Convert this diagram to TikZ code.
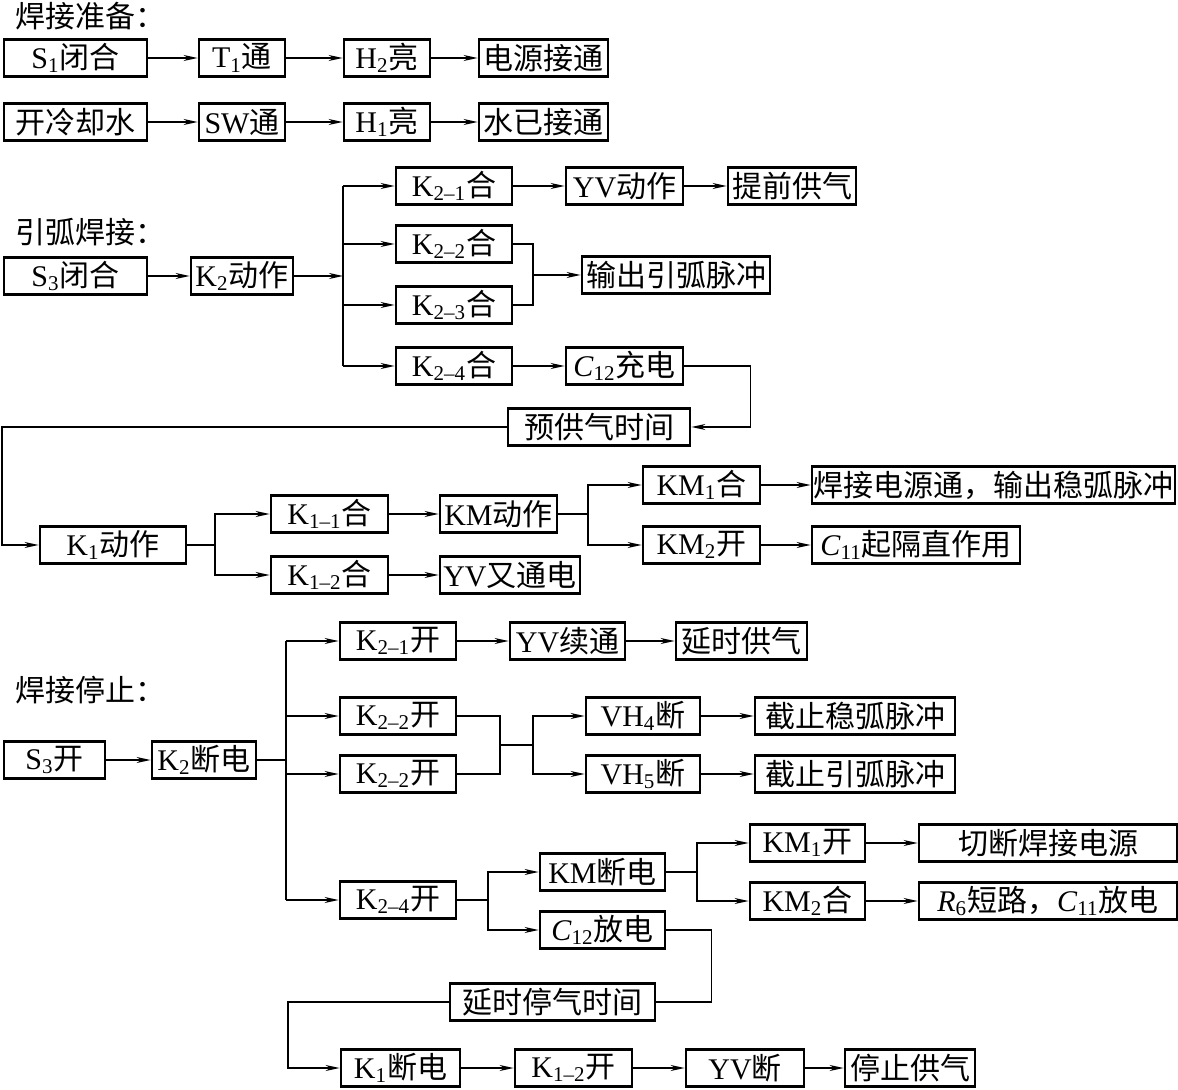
\documentclass[tikz,border=0pt]{standalone}
\usepackage{fontspec}
\setmainfont{Liberation Serif}
\newfontfamily\cjk{Noto Sans CJK SC}
\usetikzlibrary{arrows.meta}
\newcommand{\zh}[1]{{\cjk #1}}

\begin{document}
\begin{tikzpicture}[x=0.5pt,y=-0.5pt,>={Stealth[length=7pt,width=3pt]},font=\fontsize{15}{15}\selectfont,
  box/.style={draw,line width=1.4pt,inner sep=0pt,minimum height=18.5pt},
  lk/.style={line width=0.8pt}]
 \useasboundingbox (0,0) rectangle (1178,1090);
 \node[anchor=west] (tprep) at (8,16) {\zh{焊接准备：}};
 \node[box,minimum width=71.5pt] (s1) at (75.5,58) {S\textsubscript{1}\zh{闭合}};
 \node[box,minimum width=43pt] (t1) at (242,58) {T\textsubscript{1}\zh{通}};
 \node[box,minimum width=43pt] (h2) at (387,58) {H\textsubscript{2}\zh{亮}};
 \node[box,minimum width=64.5pt] (pw) at (543.5,58) {\zh{电源接通}};
 \node[box,minimum width=71.5pt] (cw) at (75.5,122) {\zh{开冷却水}};
 \node[box,minimum width=43pt] (sw) at (242,122) {SW\zh{通}};
 \node[box,minimum width=43pt] (h1) at (387,122) {H\textsubscript{1}\zh{亮}};
 \node[box,minimum width=64.5pt] (wt) at (543.5,122) {\zh{水已接通}};
 \draw[lk,->] (s1) -- (t1);
 \draw[lk,->] (t1) -- (h2);
 \draw[lk,->] (h2) -- (pw);
 \draw[lk,->] (cw) -- (sw);
 \draw[lk,->] (sw) -- (h1);
 \draw[lk,->] (h1) -- (wt);

 \node[anchor=west] (tarc) at (8,232) {\zh{引弧焊接：}};
 \node[box,minimum width=71.5pt] (s3) at (75.5,276) {S\textsubscript{3}\zh{闭合}};
 \node[box,minimum width=51pt] (k2) at (242,276) {K\textsubscript{2}\zh{动作}};
 \node[box,minimum width=58pt] (k21) at (454,186) {K\textsubscript{2--1}\zh{合}};
 \node[box,minimum width=58pt] (k22) at (454,244) {K\textsubscript{2--2}\zh{合}};
 \node[box,minimum width=58pt] (k23) at (454,305) {K\textsubscript{2--3}\zh{合}};
 \node[box,minimum width=58pt] (k24) at (454,366) {K\textsubscript{2--4}\zh{合}};
 \node[box,minimum width=58.5pt] (yv1) at (624.5,186) {YV\zh{动作}};
 \node[box,minimum width=64pt] (adv) at (792,186) {\zh{提前供气}};
 \node[box,minimum width=94pt] (arc) at (676,275) {\zh{输出引弧脉冲}};
 \node[box,minimum width=58.5pt] (c12) at (624.5,366) {\textit{C}\textsubscript{12}\zh{充电}};
 \node[box,minimum width=91pt] (pre) at (599,427) {\zh{预供气时间}};
 \node[box,minimum width=73pt] (k1) at (113,545) {K\textsubscript{1}\zh{动作}};
 \node[box,minimum width=58.5pt] (k11) at (329.5,514) {K\textsubscript{1--1}\zh{合}};
 \node[box,minimum width=58.5pt] (k12) at (329.5,575) {K\textsubscript{1--2}\zh{合}};
 \node[box,minimum width=58.5pt] (km) at (498.5,514) {KM\zh{动作}};
 \node[box,minimum width=70pt] (yv2) at (510,575) {YV\zh{又通电}};
 \node[box,minimum width=58.5pt] (km1) at (701.5,485) {KM\textsubscript{1}\zh{合}};
 \node[box,minimum width=58.5pt] (km2) at (701.5,545) {KM\textsubscript{2}\zh{开}};
 \node[box,minimum width=181.5pt] (wps) at (993.5,485) {\zh{焊接电源通，输出稳弧脉冲}};
 \node[box,minimum width=104pt] (c11) at (916,545) {\textit{C}\textsubscript{11}\zh{起隔直作用}};
 \draw[lk,->] (s3) -- (k2);
 \coordinate (j1) at (343,276);
 \draw[lk,->] (k2) -- (j1);
 \draw[lk] (j1 |- k21) -- (j1 |- k24);
 \foreach \n in {k21,k22,k23,k24}
   \draw[lk,->] (j1 |- \n) -- (\n);
 \draw[lk,->] (k21) -- (yv1);
 \draw[lk,->] (yv1) -- (adv);
 \coordinate (m1) at (533,275);
 \draw[lk] (k22.east) -| (m1) |- (k23.east);
 \draw[lk,->] (m1) -- (arc);
 \draw[lk,->] (k24) -- (c12);
 \draw[lk,->] (c12.east) -- ++(66,0) |- (pre.east);
 \draw[lk,->] (pre.west) -- (2,427) |- (k1.west);
 \coordinate (j2) at (215,545);
 \draw[lk] (k1) -- (j2);
 \draw[lk,->] (j2) |- (k11);
 \draw[lk,->] (j2) |- (k12);
 \draw[lk,->] (k11) -- (km);
 \draw[lk,->] (k12) -- (yv2);
 \coordinate (j3) at (588,514);
 \draw[lk] (km) -- (j3);
 \draw[lk,->] (j3) |- (km1);
 \draw[lk,->] (j3) |- (km2);
 \draw[lk,->] (km1) -- (wps);
 \draw[lk,->] (km2) -- (c11);

 \node[anchor=west] (tstop) at (8,690) {\zh{焊接停止：}};
 \node[box,minimum width=50.5pt] (s3o) at (54.5,760) {S\textsubscript{3}\zh{开}};
 \node[box,minimum width=52pt] (k2o) at (204,760) {K\textsubscript{2}\zh{断电}};
 \node[box,minimum width=58pt] (k21o) at (398,641) {K\textsubscript{2--1}\zh{开}};
 \node[box,minimum width=57.5pt] (yv3) at (567.5,641) {YV\zh{续通}};
 \node[box,minimum width=65.5pt] (dg) at (741.5,641) {\zh{延时供气}};
 \node[box,minimum width=58pt] (k22o) at (398,716) {K\textsubscript{2--2}\zh{开}};
 \node[box,minimum width=58pt] (k22p) at (398,774) {K\textsubscript{2--2}\zh{开}};
 \node[box,minimum width=57pt] (vh4) at (643,716) {VH\textsubscript{4}\zh{断}};
 \node[box,minimum width=57pt] (vh5) at (643,774) {VH\textsubscript{5}\zh{断}};
 \node[box,minimum width=100pt] (sa) at (855,716) {\zh{截止稳弧脉冲}};
 \node[box,minimum width=100pt] (sb) at (855,774) {\zh{截止引弧脉冲}};
 \node[box,minimum width=58pt] (k24o) at (398,900) {K\textsubscript{2--4}\zh{开}};
 \node[box,minimum width=62.5pt] (kmo) at (602.5,872) {KM\zh{断电}};
 \node[box,minimum width=62.5pt] (c12o) at (602.5,930) {\textit{C}\textsubscript{12}\zh{放电}};
 \node[box,minimum width=57.5pt] (km1o) at (807.5,843) {KM\textsubscript{1}\zh{开}};
 \node[box,minimum width=57.5pt] (km2o) at (807.5,901) {KM\textsubscript{2}\zh{合}};
 \node[box,minimum width=129pt] (cut) at (1048,843) {\zh{切断焊接电源}};
 \node[box,minimum width=129pt] (r6) at (1048,901) {\textit{R}\textsubscript{6}\zh{短路，}\textit{C}\textsubscript{11}\zh{放电}};
 \node[box,minimum width=102.5pt] (dly) at (552.5,1002) {\zh{延时停气时间}};
 \node[box,minimum width=59.5pt] (k1o) at (400.5,1068) {K\textsubscript{1}\zh{断电}};
 \node[box,minimum width=58.5pt] (k12o) at (573.5,1068) {K\textsubscript{1--2}\zh{开}};
 \node[box,minimum width=59pt] (yvo) at (745,1068) {YV\zh{断}};
 \node[box,minimum width=65pt] (stp) at (910,1068) {\zh{停止供气}};
 \draw[lk,->] (s3o) -- (k2o);
 \coordinate (j4) at (286,760);
 \draw[lk] (k2o) -- (j4);
 \draw[lk] (j4 |- k21o) -- (j4 |- k24o);
 \foreach \n in {k21o,k22o,k22p,k24o}
   \draw[lk,->] (j4 |- \n) -- (\n);
 \draw[lk,->] (k21o) -- (yv3);
 \draw[lk,->] (yv3) -- (dg);
 \coordinate (m2) at (500,745);
 \draw[lk] (k22o.east) -| (m2) |- (k22p.east);
 \coordinate (j5) at (533,745);
 \draw[lk] (m2) -- (j5);
 \draw[lk,->] (j5) |- (vh4);
 \draw[lk,->] (j5) |- (vh5);
 \draw[lk,->] (vh4) -- (sa);
 \draw[lk,->] (vh5) -- (sb);
 \coordinate (j6) at (488,900);
 \draw[lk] (k24o) -- (j6);
 \draw[lk,->] (j6) |- (kmo);
 \draw[lk,->] (j6) |- (c12o);
 \coordinate (j7) at (697,872);
 \draw[lk] (kmo) -- (j7);
 \draw[lk,->] (j7) |- (km1o);
 \draw[lk,->] (j7) |- (km2o);
 \draw[lk,->] (km1o) -- (cut);
 \draw[lk,->] (km2o) -- (r6);
 \draw[lk] (c12o.east) -- ++(45,0) |- (dly.east);
 \draw[lk,->] (dly.west) -- (288,1002) |- (k1o.west);
 \draw[lk,->] (k1o) -- (k12o);
 \draw[lk,->] (k12o) -- (yvo);
 \draw[lk,->] (yvo) -- (stp);
\end{tikzpicture}
\end{document}
